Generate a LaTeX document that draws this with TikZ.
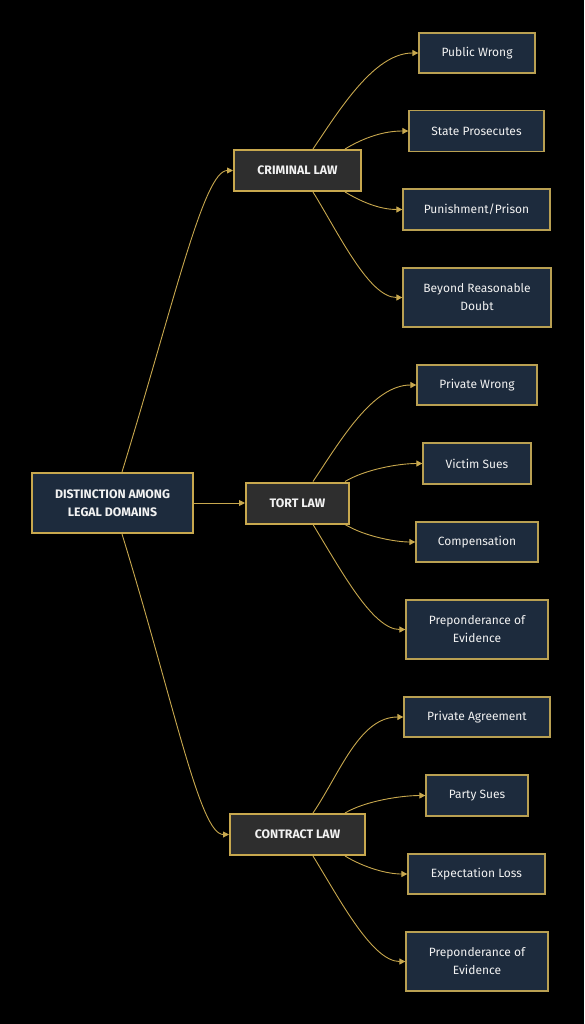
\documentclass[tikz,border=0pt]{standalone}
\usepackage{fontspec}
\setmainfont{Fira Sans}
\usetikzlibrary{arrows.meta,calc}
\definecolor{bg}{HTML}{000000}
\definecolor{gold}{HTML}{C8A84E}
\definecolor{leafgold}{HTML}{B9A052}
\definecolor{navy}{HTML}{1D2B3D}
\definecolor{midgrey}{HTML}{2E2E2E}
\definecolor{txt}{HTML}{F2F2F2}
\tikzset{
  leafbox/.style={draw=leafgold, line width=1.3pt, fill=navy, text=txt, align=center,
    font=\fontsize{12}{18}\selectfont, inner sep=0pt},
  midbox/.style={draw=gold, line width=2pt, fill=midgrey, text=txt, align=center,
    font=\fontsize{12.3}{18}\selectfont\bfseries, inner sep=0pt, minimum height=41pt},
  rootbox/.style={draw=gold, line width=2pt, fill=navy, text=txt, align=center,
    font=\fontsize{12.3}{18}\selectfont\bfseries, inner sep=0pt, minimum width=161pt, minimum height=60pt},
  edge/.style={draw=gold, line width=0.9pt, -{Triangle[length=6pt,width=6pt]}},
}
\begin{document}
\begin{tikzpicture}[x=1pt,y=-1pt]
\fill[bg] (0,0) rectangle (584,1024);
\useasboundingbox (0,0) rectangle (584,1024);

% root
\node[rootbox] (root) at (112.5,503) {DISTINCTION AMONG\\LEGAL DOMAINS};

% middle
\node[midbox, minimum width=127pt] (crim) at (297.5,170.5) {CRIMINAL LAW};
\node[midbox, minimum width=103pt] (tort) at (297.5,503) {TORT LAW};
\node[midbox, minimum width=135pt] (contr) at (297.5,834.5) {CONTRACT LAW};

% leaves criminal
\node[leafbox, minimum width=116pt, minimum height=40pt] (c1) at (477,53) {Public Wrong};
\node[leafbox, minimum width=135pt, minimum height=41pt] (c2) at (476.5,131) {State Prosecutes};
\node[leafbox, minimum width=147pt, minimum height=41pt] (c3) at (476.5,209.5) {Punishment/Prison};
\node[leafbox, minimum width=148pt, minimum height=59pt] (c4) at (477,297.5) {Beyond Reasonable\\Doubt};

% leaves tort
\node[leafbox, minimum width=120pt, minimum height=40pt] (t1) at (477,385) {Private Wrong};
\node[leafbox, minimum width=108pt, minimum height=41pt] (t2) at (477,463.5) {Victim Sues};
\node[leafbox, minimum width=122pt, minimum height=40pt] (t3) at (477,542) {Compensation};
\node[leafbox, minimum width=142pt, minimum height=59pt] (t4) at (477,629.5) {Preponderance of\\Evidence};

% leaves contract
\node[leafbox, minimum width=146pt, minimum height=40pt] (k1) at (477,717) {Private Agreement};
\node[leafbox, minimum width=102pt, minimum height=41pt] (k2) at (477,795.5) {Party Sues};
\node[leafbox, minimum width=137pt, minimum height=40pt] (k3) at (476.5,874) {Expectation Loss};
\node[leafbox, minimum width=142pt, minimum height=59pt] (k4) at (477,961.5) {Preponderance of\\Evidence};

% root edges
\draw[edge] ([xshift=9.5pt]root.north) .. controls +(53,-173) and +(-29,0) .. (crim.west);
\draw[edge] (root.east) -- (tort.west);
\draw[edge] ([xshift=9.5pt]root.south) .. controls +(53,173) and +(-29,0) .. (contr.west);

% child edges
\foreach \m/\a/\b/\c/\d in {crim/c1/c2/c3/c4, tort/t1/t2/t3/t4, contr/k1/k2/k3/k4}{
  \draw[edge] ([xshift=15.5pt]\m.north) .. controls +(27,-40) and +(-44,0) .. (\a.west);
  \draw[edge] ([xshift=47.5pt]\m.north) .. controls +(20,-12) and +(-24,0) .. (\b.west);
  \draw[edge] ([xshift=47.5pt]\m.south) .. controls +(20,12) and +(-20,0) .. (\c.west);
  \draw[edge] ([xshift=15.5pt]\m.south) .. controls +(27,44) and +(-33,0) .. (\d.west);
}
\end{tikzpicture}
\end{document}
